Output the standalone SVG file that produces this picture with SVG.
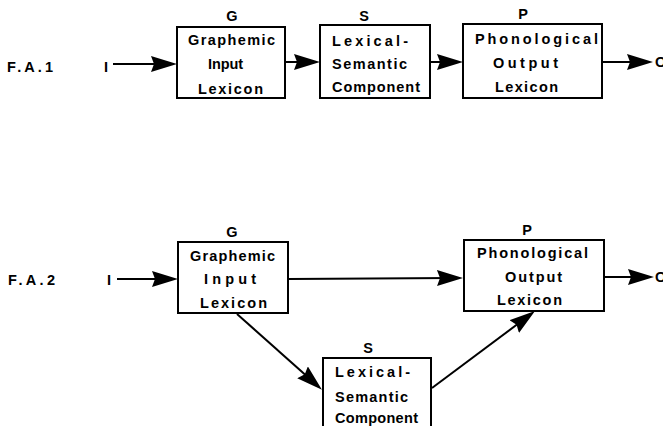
<svg xmlns="http://www.w3.org/2000/svg" width="663" height="426" viewBox="0 0 663 426">
<style>
.box{fill:#fff;stroke:#000;stroke-width:2}
.t{font-family:"Liberation Sans",Arial,sans-serif;font-weight:bold;font-size:14.5px;fill:#000}
.c{stroke:#000;stroke-width:2;fill:none;marker-end:url(#ah)}
</style>
<defs>
<marker id="ah" markerUnits="userSpaceOnUse" markerWidth="28" markerHeight="18" viewBox="0 0 28 18" refX="16" refY="8" orient="auto">
<path d="M0,0 L26,8 L0,16 L3,8 z" fill="#000"/>
</marker>
</defs>
<rect width="663" height="426" fill="#fff"/>

<g id="labels">
<text class="t" x="7" y="72" textLength="46" lengthAdjust="spacing">F.A.1</text>
<text class="t" x="104" y="72">I</text>
<text class="t" x="655" y="67">O</text>
<text class="t" x="8" y="285" textLength="47" lengthAdjust="spacing">F.A.2</text>
<text class="t" x="107" y="285">I</text>
<text class="t" x="655" y="282">O</text>
</g>

<g id="connectors">
<path class="c" d="M113,64 H167"/>
<path class="c" d="M286,62 H310"/>
<path class="c" d="M431,62 H453"/>
<path class="c" d="M603,62 H643"/>
<path class="c" d="M117,279 H168"/>
<path class="c" d="M289,279 L453,278"/>
<path class="c" d="M605,277 H644"/>
<path class="c" d="M237,314 L314.5,383"/>
<path class="c" d="M432,388 L527,317"/>
</g>

<g id="G1">
<rect class="box" x="177" y="27" width="108" height="71"/>
<text class="t" x="232" y="21" text-anchor="middle">G</text>
<text class="t" x="188" y="45" textLength="87" lengthAdjust="spacing">Graphemic</text>
<text class="t" x="208" y="69" textLength="35" lengthAdjust="spacing">Input</text>
<text class="t" x="198" y="94" textLength="65" lengthAdjust="spacing">Lexicon</text>
</g>

<g id="S1">
<rect class="box" x="320" y="25" width="110" height="73"/>
<text class="t" x="364" y="21" text-anchor="middle">S</text>
<text class="t" x="332" y="46" textLength="76" lengthAdjust="spacing">Lexical-</text>
<text class="t" x="332" y="69" textLength="75" lengthAdjust="spacing">Semantic</text>
<text class="t" x="332" y="92" textLength="88" lengthAdjust="spacing">Component</text>
</g>

<g id="P1">
<rect class="box" x="463" y="24" width="139" height="74"/>
<text class="t" x="523" y="19" text-anchor="middle">P</text>
<text class="t" x="475" y="44" textLength="123" lengthAdjust="spacing">Phonological</text>
<text class="t" x="493" y="68" textLength="65" lengthAdjust="spacing">Output</text>
<text class="t" x="495" y="92" textLength="63" lengthAdjust="spacing">Lexicon</text>
</g>

<g id="G2">
<rect class="box" x="178" y="242" width="110" height="71"/>
<text class="t" x="232" y="237" text-anchor="middle">G</text>
<text class="t" x="190" y="261" textLength="85" lengthAdjust="spacing">Graphemic</text>
<text class="t" x="204" y="284" textLength="52" lengthAdjust="spacing">Input</text>
<text class="t" x="200" y="308" textLength="67" lengthAdjust="spacing">Lexicon</text>
</g>

<g id="P2">
<rect class="box" x="464" y="240" width="140" height="71"/>
<text class="t" x="527" y="235" text-anchor="middle">P</text>
<text class="t" x="477" y="258" textLength="111" lengthAdjust="spacing">Phonological</text>
<text class="t" x="505" y="282" textLength="57" lengthAdjust="spacing">Output</text>
<text class="t" x="497" y="305" textLength="65" lengthAdjust="spacing">Lexicon</text>
</g>

<g id="S2">
<rect class="box" x="323" y="358" width="108" height="75"/>
<text class="t" x="368" y="353" text-anchor="middle">S</text>
<text class="t" x="335" y="377" textLength="75" lengthAdjust="spacing">Lexical-</text>
<text class="t" x="335" y="402" textLength="73" lengthAdjust="spacing">Semantic</text>
<text class="t" x="335" y="423" textLength="83" lengthAdjust="spacing">Component</text>
</g>
</svg>
